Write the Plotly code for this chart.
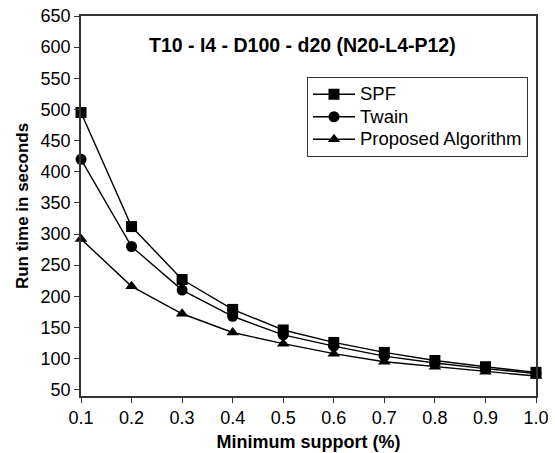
import plotly.graph_objects as go

support = [0.1, 0.2, 0.3, 0.4, 0.5, 0.6, 0.7, 0.8, 0.9, 1.0]
spf = [495, 312, 227, 179, 146, 126, 110, 97, 87, 78]
twain = [420, 280, 210, 168, 138, 120, 104, 93, 84, 76]
proposed = [292, 216, 172, 142, 124, 108, 95, 87, 79, 72]

x_ticks = [0.1, 0.2, 0.3, 0.4, 0.5, 0.6, 0.7, 0.8, 0.9, 1.0]
x_tick_labels = ["0.1", "0.2", "0.3", "0.4", "0.5", "0.6", "0.7", "0.8", "0.9", "1.0"]
y_ticks = list(range(50, 651, 50))
series_names = ["SPF", "Twain", "Proposed Algorithm"]
series_symbols = ["square", "circle", "triangle-up"]

font_family = "Liberation Sans, Arial, sans-serif"

fig = go.Figure()
for name, vals, sym in zip(series_names, [spf, twain, proposed], series_symbols):
    fig.add_trace(go.Scatter(
        x=support, y=vals, mode="lines+markers",
        name='<span style="font-size:18.5px">' + name + '</span>',
        line=dict(color="black", width=1.4),
        marker=dict(symbol=sym, size=11, color="black"),
        cliponaxis=False,
    ))

fig.update_layout(
    width=555, height=453,
    margin=dict(l=81, r=19, t=16, b=57),
    paper_bgcolor="white", plot_bgcolor="white",
    font=dict(family=font_family, size=18, color="black"),
    showlegend=True,
    legend=dict(
        x=0.4967, y=0.8395, xanchor="left", yanchor="top",
        bordercolor="#333", borderwidth=1, bgcolor="white",
        font=dict(size=15), tracegroupgap=0, itemwidth=42,
    ),
    annotations=[dict(
        text="<b>T10 - I4 - D100 - d20 (N20-L4-P12)</b>",
        xref="paper", yref="paper", x=0.487, y=0.924,
        xanchor="center", yanchor="middle", showarrow=False,
        font=dict(size=19.5),
    )],
)

fig.update_xaxes(
    range=[0.1, 1.0], tickvals=x_ticks, ticktext=x_tick_labels,
    showline=True, linecolor="#333", linewidth=1.5, mirror=True,
    ticks="outside", ticklen=5, tickcolor="#333",
    showgrid=False, zeroline=False, automargin=False,
    title=dict(text="<b>Minimum support (%)</b>", font=dict(size=18), standoff=8),
    tickfont=dict(size=18),
)
fig.update_yaxes(
    range=[40, 650], tickvals=y_ticks,
    showline=True, linecolor="#333", linewidth=1.5, mirror=True,
    ticks="outside", ticklen=5, tickcolor="#333",
    showgrid=False, zeroline=False, automargin=False,
    title=dict(text="<b>Run time in seconds</b>", font=dict(size=17), standoff=8),
    tickfont=dict(size=18),
)

fig.write_html("out.html")
